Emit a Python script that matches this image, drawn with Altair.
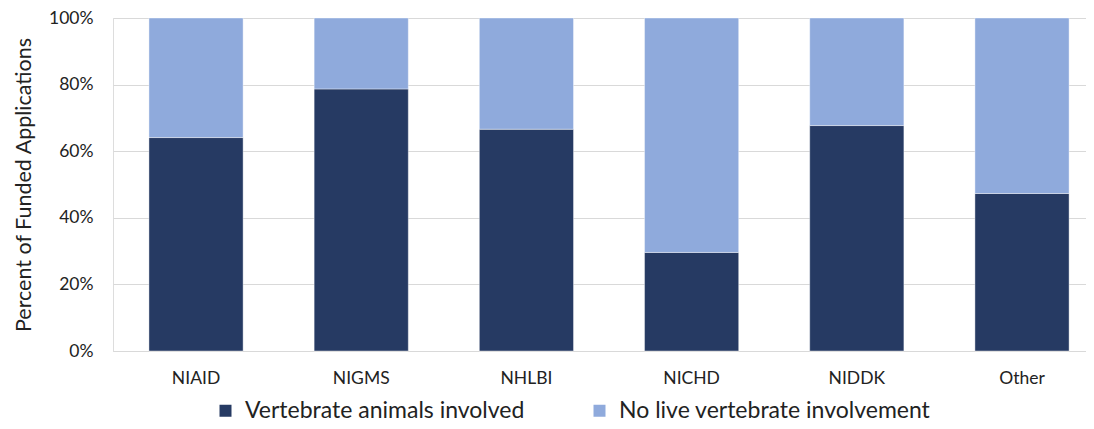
import altair as alt
import pandas as pd

institutes = ["NIAID", "NIGMS", "NHLBI", "NICHD", "NIDDK", "Other"]
vertebrate = [64.1, 78.7, 66.6, 29.6, 67.7, 47.3]
no_live = [35.9, 21.3, 33.4, 70.4, 32.3, 52.7]
series = ["Vertebrate animals involved", "No live vertebrate involvement"]
colors = ["#263A63", "#8FAADC"]
y_ticks = [0, 20, 40, 60, 80, 100]

rows = []
for i, inst in enumerate(institutes):
    rows.append({"inst": inst, "series": series[0], "value": vertebrate[i], "ord": 0})
    rows.append({"inst": inst, "series": series[1], "value": no_live[i], "ord": 1})
df = pd.DataFrame(rows)

FONT = "Lato"

chart = alt.Chart(df).mark_bar(
    stroke="#ffffff", strokeWidth=0.8, strokeOpacity=0.5
).encode(
    x=alt.X("inst:N", sort=institutes, title=None,
            scale=alt.Scale(paddingInner=0.43, paddingOuter=0.16, align=0.68),
            axis=alt.Axis(labelAngle=0, ticks=False, domain=True, domainColor="#d9d9d9",
                          labelFont=FONT, labelFontSize=17.5, labelColor="#222222",
                          labelPadding=18)),
    y=alt.Y("value:Q", stack="zero", title="Percent of Funded Applications",
            scale=alt.Scale(domain=[0, 100], nice=False),
            axis=alt.Axis(values=y_ticks, labelExpr="datum.value + '%'", ticks=False,
                          domain=False, gridColor="#d9d9d9", gridWidth=1,
                          labelFont=FONT, labelFontSize=17.5, labelColor="#222222",
                          labelPadding=20, titleFont=FONT, titleFontSize=21.5,
                          titleFontWeight="normal", titleColor="#222222", titlePadding=13)),
    color=alt.Color("series:N", sort=series, title=None,
                    scale=alt.Scale(domain=series, range=colors),
                    legend=alt.Legend(orient="none", direction="horizontal",
                                      legendX=101, legendY=381, padding=0,
                                      symbolType="square", symbolSize=144,
                                      symbolStrokeWidth=0, symbolOpacity=1,
                                      labelFont=FONT, labelFontSize=23,
                                      labelColor="#222222", labelOffset=8,
                                      columnPadding=63, labelLimit=500)),
    order=alt.Order("ord:Q"),
).properties(
    width=973, height=333,
    padding={"left": 5, "top": 1, "right": 0, "bottom": 0},
).configure_view(stroke=None).configure(background="white")

chart.save("out.html", embed_options={"renderer": "svg", "actions": False})
